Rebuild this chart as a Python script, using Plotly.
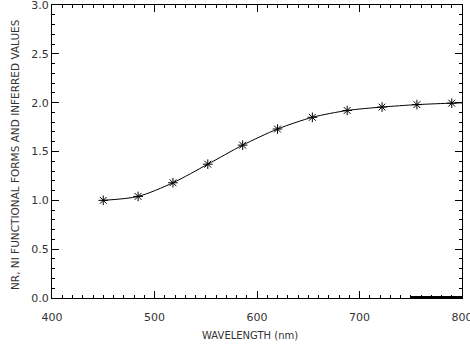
import plotly.graph_objects as go

wavelength = [450, 484, 518, 552, 586, 620, 654, 688, 722, 756, 790]
inferred = [1.00, 1.04, 1.18, 1.37, 1.565, 1.73, 1.85, 1.92, 1.955, 1.98, 1.995]
curve_x = [450, 484, 518, 552, 586, 620, 654, 688, 722, 756, 790, 800]
curve_y = [1.00, 1.04, 1.18, 1.37, 1.565, 1.73, 1.85, 1.92, 1.955, 1.98, 1.995, 1.998]
bar_x = [750, 800]
bar_y = [0.0, 0.0]
x_ticks = [400, 500, 600, 700, 800]
x_ticklabels = ["400", "500", "600", "700", "800"]
y_ticks = [0, 0.5, 1.0, 1.5, 2.0, 2.5, 3.0]
y_ticklabels = ["0.0", "0.5", "1.0", "1.5", "2.0", "2.5", "3.0"]

FONT = "DejaVu Sans, Verdana, sans-serif"
TXT = "#333"

fig = go.Figure()
fig.add_trace(go.Scatter(x=curve_x, y=curve_y, mode="lines",
                         line=dict(color="black", width=1, shape="spline", smoothing=0.8),
                         hoverinfo="skip", showlegend=False))
fig.add_trace(go.Scatter(x=wavelength, y=inferred, mode="markers",
                         marker=dict(symbol="asterisk-open", size=8, color="black",
                                     line=dict(color="black", width=1)),
                         showlegend=False))
fig.add_trace(go.Scatter(x=bar_x, y=bar_y, mode="lines",
                         line=dict(color="black", width=4), showlegend=False, cliponaxis=False))

axis_common = dict(showgrid=False, zeroline=False, showline=True, linecolor="black",
                   linewidth=1, mirror="allticks", ticks="inside", tickcolor="black",
                   ticklen=7, tickwidth=1, ticklabeloverflow="allow", automargin=False,
                   tickfont=dict(family=FONT, size=11, color=TXT))

fig.update_layout(
    width=470, height=349,
    margin=dict(l=52, r=8, t=5, b=51),
    paper_bgcolor="white", plot_bgcolor="white",
    xaxis=dict(range=[400, 800], tickvals=x_ticks, ticktext=x_ticklabels,
               ticklabelstandoff=9,
               minor=dict(dtick=10, ticks="inside", ticklen=3, tickcolor="black", showgrid=False),
               **axis_common),
    yaxis=dict(range=[0, 3.0], tickvals=y_ticks, ticktext=y_ticklabels,
               minor=dict(dtick=0.1, ticks="inside", ticklen=3, tickcolor="black", showgrid=False),
               **axis_common),
    annotations=[
        dict(text="WAVELENGTH (nm)", xref="paper", yref="paper", x=0.482, y=0, yshift=-37,
             xanchor="center", yanchor="middle", showarrow=False,
             font=dict(family=FONT, size=10, color=TXT)),
        dict(text="NR, NI FUNCTIONAL FORMS AND INFERRED VALUES", xref="paper", yref="paper",
             x=0, xshift=-37, y=0.488, xanchor="center", yanchor="middle", textangle=-90,
             showarrow=False, font=dict(family=FONT, size=10.5, color=TXT)),
    ],
)

fig.write_html("out.html", config={"displayModeBar": False},
               post_script="document.body.style.margin='0';document.body.style.overflow='hidden';")
